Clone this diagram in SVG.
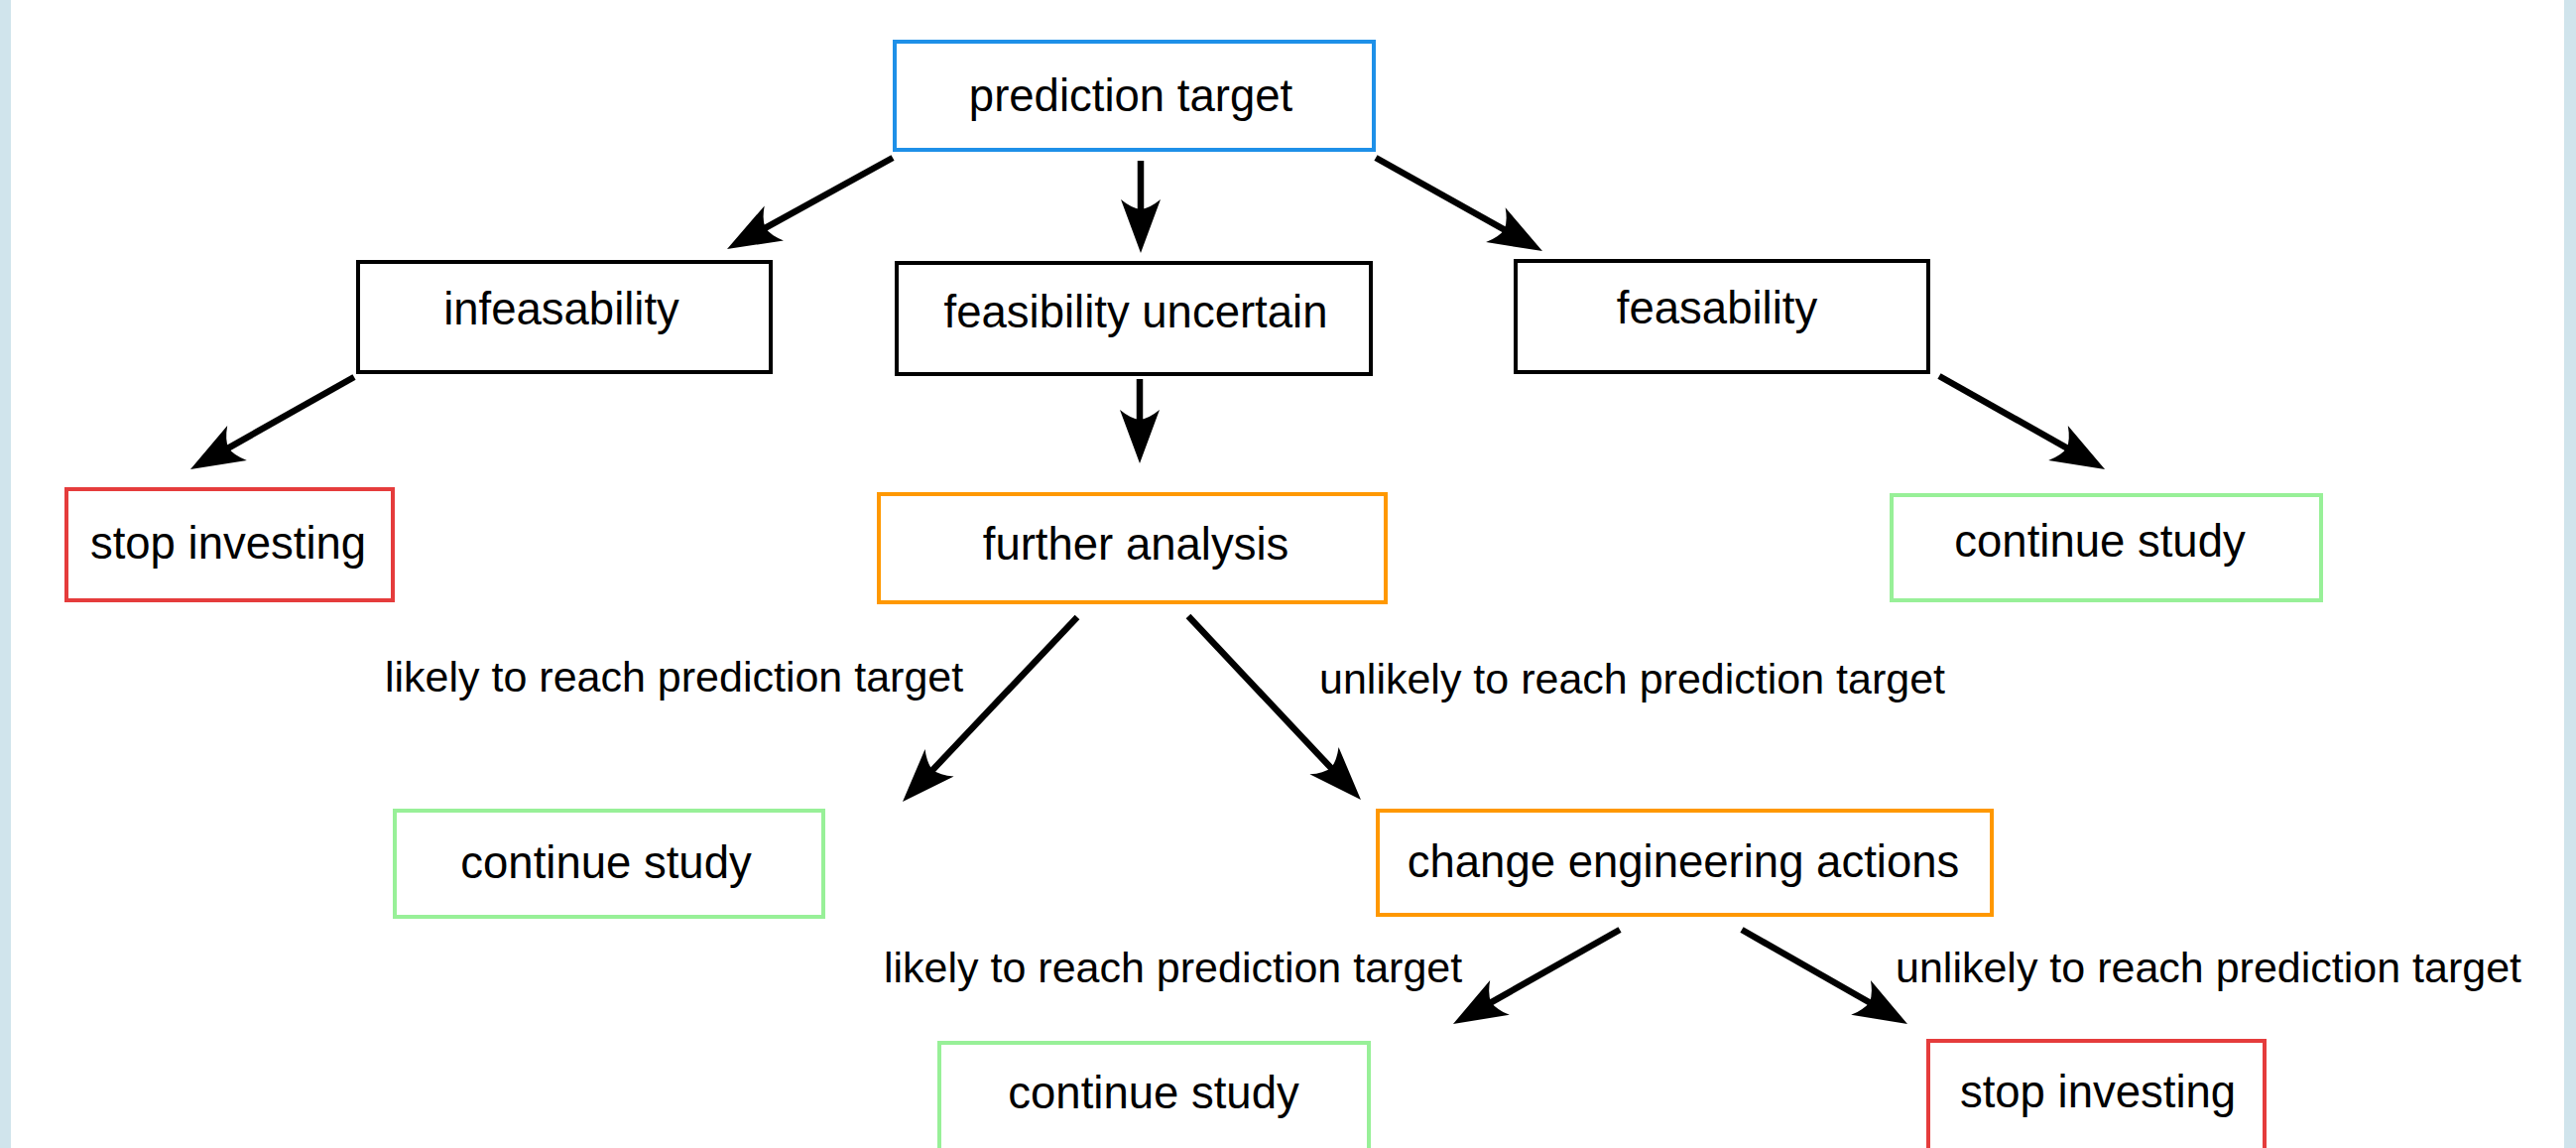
<svg xmlns="http://www.w3.org/2000/svg" width="2597" height="1157" viewBox="0 0 2597 1157">
<defs>
<style>
.box{fill:#ffffff;stroke-width:4}
.blue{stroke:#1e90e8}
.black{stroke:#000000}
.orange{stroke:#ff9800}
.green{stroke:#98f098}
.red{stroke:#e53c3c}
.t{font-family:"Liberation Sans",Arial,Helvetica,sans-serif;font-size:45.5px;fill:#000000;text-anchor:middle}
.lbl{font-family:"Liberation Sans",Arial,Helvetica,sans-serif;font-size:43px;fill:#000000}
.conn{stroke:#000000;stroke-width:6.5;fill:none;marker-end:url(#arrow)}
</style>
<marker id="arrow" markerUnits="userSpaceOnUse" viewBox="-58 -24 62 48" markerWidth="62" markerHeight="48" refX="-30" refY="0" orient="auto">
<path d="M0,0 L-54,-20 Q-45,-9 -44,0 Q-45,9 -54,20 Z" fill="#000000"/>
</marker>
</defs>
<rect x="0" y="0" width="2597" height="1157" fill="#ffffff"/>
<rect x="0" y="0" width="11" height="1157" fill="#d0e4ec"/>
<rect x="2585" y="0" width="12" height="1157" fill="#d0e4ec"/>

<g id="connectors">
<line class="conn" x1="900" y1="159" x2="759.3" y2="236.5"/>
<line class="conn" x1="1150" y1="162" x2="1150" y2="225"/>
<line class="conn" x1="1387" y1="159" x2="1528.8" y2="238.4"/>
<line class="conn" x1="357" y1="380" x2="218.1" y2="458.3"/>
<line class="conn" x1="1149" y1="382" x2="1149" y2="437"/>
<line class="conn" x1="1955" y1="379" x2="2095.9" y2="458.3"/>
<line class="conn" x1="1086" y1="622" x2="930.6" y2="786.2"/>
<line class="conn" x1="1198" y1="621" x2="1351.4" y2="784.1"/>
<line class="conn" x1="1633" y1="937" x2="1491.1" y2="1017.2"/>
<line class="conn" x1="1756" y1="937" x2="1896.9" y2="1017.2"/>
</g>

<g id="labels">
<text class="lbl" x="388" y="697">likely to reach prediction target</text>
<text class="lbl" x="1330" y="699">unlikely to reach prediction target</text>
<text class="lbl" x="891" y="990">likely to reach prediction target</text>
<text class="lbl" x="1911" y="990">unlikely to reach prediction target</text>
</g>

<g id="prediction-target">
<rect class="box blue" x="902" y="42" width="483" height="109"/>
<text class="t" x="1140" y="112">prediction target</text>
</g>
<g id="infeasability">
<rect class="box black" x="361" y="264" width="416" height="111"/>
<text class="t" x="566" y="327">infeasability</text>
</g>
<g id="feasibility-uncertain">
<rect class="box black" x="904" y="265" width="478" height="112"/>
<text class="t" x="1145" y="330">feasibility uncertain</text>
</g>
<g id="feasability">
<rect class="box black" x="1528" y="263" width="416" height="112"/>
<text class="t" x="1731" y="326">feasability</text>
</g>
<g id="stop-investing-1">
<rect class="box red" x="67" y="493" width="329" height="112"/>
<text class="t" x="230" y="563">stop investing</text>
</g>
<g id="further-analysis">
<rect class="box orange" x="886" y="498" width="511" height="109"/>
<text class="t" x="1145" y="564">further analysis</text>
</g>
<g id="continue-study-1">
<rect class="box green" x="1907" y="499" width="433" height="106"/>
<text class="t" x="2117" y="561">continue study</text>
</g>
<g id="continue-study-2">
<rect class="box green" x="398" y="817" width="432" height="107"/>
<text class="t" x="611" y="885">continue study</text>
</g>
<g id="change-engineering-actions">
<rect class="box orange" x="1389" y="817" width="619" height="105"/>
<text class="t" x="1697" y="884">change engineering actions</text>
</g>
<g id="continue-study-3">
<rect class="box green" x="947" y="1051" width="433" height="120"/>
<text class="t" x="1163" y="1117">continue study</text>
</g>
<g id="stop-investing-2">
<rect class="box red" x="1944" y="1049" width="339" height="120"/>
<text class="t" x="2115" y="1116">stop investing</text>
</g>
</svg>
